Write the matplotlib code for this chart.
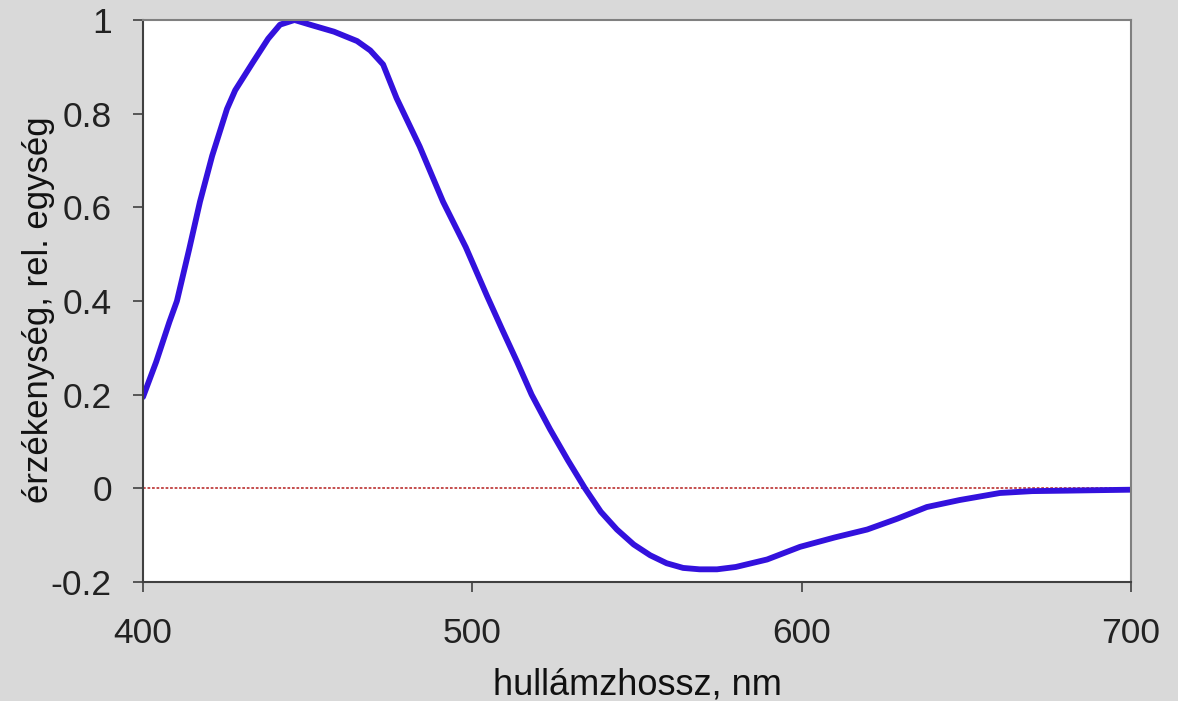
import matplotlib
matplotlib.use("Agg")
import matplotlib.pyplot as plt

# spectral sensitivity
wavelength = [400, 404, 408, 410.3, 414, 417.3, 421, 425.5, 428, 433.4, 438, 441.6, 446,
              450.7, 458, 465, 469, 472.9, 477, 484, 491.1, 498, 504.5, 509, 513.6, 518,
              523.6, 529, 534.2, 539, 543.9, 549, 554, 559, 564, 569, 574.3, 580, 589.5,
              599.5, 610, 619.9, 629, 638, 648, 660.2, 670, 680.6, 690, 700]
sensitivity = [0.195, 0.27, 0.355, 0.40, 0.51, 0.612, 0.71, 0.81, 0.85, 0.91, 0.96, 0.99, 1.0,
               0.99, 0.975, 0.955, 0.935, 0.905, 0.833, 0.73, 0.612, 0.515, 0.41, 0.34, 0.27,
               0.20, 0.126, 0.06, 0.0, -0.05, -0.088, -0.12, -0.143, -0.16, -0.17, -0.173,
               -0.173, -0.168, -0.152, -0.125, -0.105, -0.088, -0.065, -0.04, -0.025, -0.01,
               -0.006, -0.005, -0.004, -0.003]

x_ticks = [400, 500, 600, 700]
y_ticks = [-0.2, 0, 0.2, 0.4, 0.6, 0.8, 1]
y_labels = ["-0.2", "0", "0.2", "0.4", "0.6", "0.8", "1"]

plt.rcParams["font.family"] = ["Liberation Sans", "DejaVu Sans"]

fig = plt.figure(figsize=(11.78, 7.01), dpi=100, facecolor="#d9d9d9")
ax = fig.add_axes([0.1214, 0.1698, 0.8387, 0.8017])
ax.set_facecolor("white")

ax.axhline(0, color="#c04040", linewidth=1.3, linestyle=(0, (1.5, 1)), zorder=1)
ax.plot(wavelength, sensitivity, color="#3311dd", linewidth=4.2, zorder=2,
        solid_capstyle="round")

ax.set_xlim(400, 700)
ax.set_ylim(-0.2, 1)
ax.set_xticks(x_ticks)
ax.set_yticks(y_ticks)
ax.set_yticklabels(y_labels)
ax.tick_params(axis="both", direction="out", length=7.5, width=1.2, colors="#404040",
               labelsize=25.5, labelcolor="#222222")
ax.tick_params(axis="x", pad=18)
ax.tick_params(axis="y", pad=15)

for side in ["left", "bottom"]:
    ax.spines[side].set_color("#404040")
    ax.spines[side].set_linewidth(1.5)
for side in ["top", "right"]:
    ax.spines[side].set_color("#808080")
    ax.spines[side].set_linewidth(1.5)

ax.set_xlabel("hullámzhossz, nm", fontsize=26, color="#111111", labelpad=12)
ax.set_ylabel("érzékenység, rel. egység", fontsize=25, color="#111111")
ax.yaxis.set_label_coords(-0.089, 0.484)

fig.savefig("out.png", dpi=100, facecolor=fig.get_facecolor())
